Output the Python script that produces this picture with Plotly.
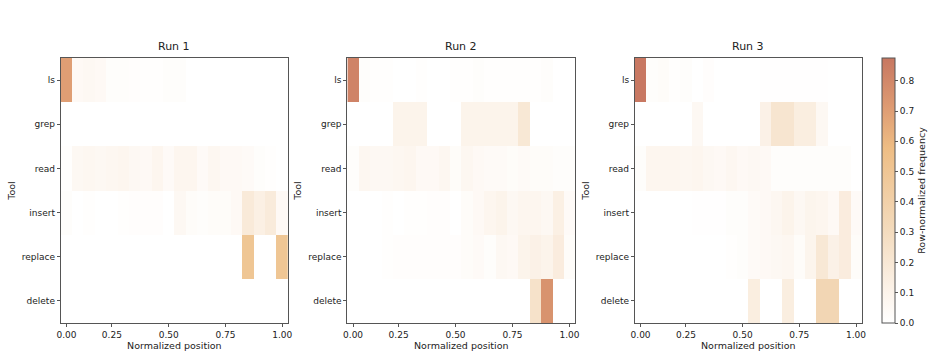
import plotly.graph_objects as go

tools = ["ls", "grep", "read", "insert", "replace", "delete"]
bins = list(range(20))
tick_positions = [0, 4, 9, 14, 19]
tick_labels = ["0.00", "0.25", "0.50", "0.75", "1.00"]
run_titles = ["Run 1", "Run 2", "Run 3"]

run1 = [
    [0.70, 0.05, 0.06, 0.05, 0.02, 0.02, 0.015, 0.01, 0.01, 0.02, 0.02, 0, 0, 0, 0, 0, 0, 0, 0, 0],
    [0] * 20,
    [0.01, 0.06, 0.07, 0.06, 0.07, 0.08, 0.06, 0.05, 0.08, 0.04, 0.08, 0.08, 0.04, 0.07, 0.05, 0.05, 0.04, 0.02, 0.01, 0],
    [0.02, 0, 0.01, 0, 0, 0.01, 0.015, 0.015, 0.015, 0, 0.06, 0.03, 0.02, 0.03, 0.03, 0.05, 0.18, 0.13, 0.17, 0.05],
    [0, 0, 0, 0, 0, 0, 0, 0, 0, 0, 0, 0, 0, 0, 0, 0, 0.5, 0, 0, 0.5],
    [0] * 20,
]
run2 = [
    [0.82, 0.02, 0.01, 0.01, 0, 0, 0.01, 0, 0, 0.01, 0.01, 0.02, 0.01, 0.01, 0.01, 0.01, 0.01, 0.02, 0, 0],
    [0, 0, 0, 0, 0.1, 0.1, 0.1, 0, 0, 0, 0.1, 0.1, 0.1, 0.1, 0.1, 0.2, 0, 0, 0, 0],
    [0.02, 0.07, 0.06, 0.06, 0.07, 0.08, 0.05, 0.05, 0.07, 0.03, 0.07, 0.05, 0.04, 0.04, 0.03, 0.04, 0.03, 0.03, 0.02, 0.02],
    [0, 0, 0, 0.01, 0, 0.01, 0.01, 0.015, 0.015, 0, 0.03, 0.05, 0.08, 0.1, 0.06, 0.08, 0.08, 0.06, 0.13, 0.04],
    [0, 0, 0, 0.01, 0.015, 0.015, 0.015, 0.015, 0.015, 0.015, 0.03, 0.04, 0.02, 0.06, 0.05, 0.1, 0.12, 0.1, 0.16, 0.03],
    [0, 0, 0, 0, 0, 0, 0, 0, 0, 0, 0, 0, 0, 0, 0, 0, 0.25, 0.75, 0, 0],
]
run3 = [
    [0.87, 0.02, 0.03, 0.01, 0.02, 0, 0.015, 0, 0, 0, 0, 0.005, 0.005, 0.005, 0.005, 0.005, 0.005, 0, 0, 0],
    [0, 0, 0, 0, 0, 0.06, 0, 0, 0, 0, 0, 0.12, 0.22, 0.22, 0.15, 0.15, 0.06, 0, 0, 0],
    [0.02, 0.08, 0.08, 0.08, 0.07, 0.08, 0.06, 0.05, 0.07, 0.05, 0.06, 0.05, 0.02, 0.02, 0.02, 0.02, 0.02, 0.02, 0.02, 0],
    [0, 0, 0, 0, 0, 0.005, 0.005, 0.005, 0.02, 0.02, 0.04, 0.05, 0.07, 0.1, 0.06, 0.09, 0.08, 0.05, 0.16, 0.04],
    [0, 0, 0, 0, 0, 0, 0, 0, 0.01, 0.02, 0.04, 0.05, 0.06, 0.07, 0.03, 0.09, 0.2, 0.12, 0.16, 0.03],
    [0, 0, 0, 0, 0, 0, 0, 0, 0, 0, 0.15, 0, 0, 0.15, 0, 0, 0.35, 0.35, 0, 0],
]
runs = [run1, run2, run3]

W, H = 938, 357
x_domains = [(57.3, 286.7), (346.7, 576.7), (637.0, 866.0)]
y_top, y_bot = 58.0, 323.0
ydom = [1 - y_bot / H, 1 - y_top / H]

colorscale = [
    [0.0, "#ffffff"],
    [0.12, "#fcf3ea"],
    [0.35, "#f3dbbd"],
    [0.66, "#eebd84"],
    [0.82, "#dd9a72"],
    [1.0, "#c77761"],
]

fig = go.Figure()
font = "DejaVu Sans, Liberation Sans, sans-serif"
for i, (z, title) in enumerate(zip(runs, run_titles)):
    n = "" if i == 0 else str(i + 1)
    fig.add_trace(go.Heatmap(
        z=z, x=bins, y=tools, coloraxis="coloraxis",
        xaxis="x" + n, yaxis="y" + n, hoverongaps=False,
    ))
    x0, x1 = x_domains[i]
    axis_common = dict(
        showline=True, linecolor="#555555", linewidth=1, mirror=True,
        ticks="outside", ticklen=3, tickcolor="#555555", showgrid=False,
        zeroline=False, tickfont=dict(size=9, color="#222222", family=font),
    )
    fig.layout["xaxis" + n] = dict(
        domain=[x0 / W, x1 / W], anchor="y" + n, range=[-0.5, 19.5],
        tickmode="array", tickvals=tick_positions, ticktext=tick_labels,
        title=dict(text="Normalized position", font=dict(size=9.5, color="#222222", family=font), standoff=2),
        **axis_common,
    )
    fig.layout["yaxis" + n] = dict(
        domain=ydom, anchor="x" + n, autorange="reversed", type="category",
        categoryorder="array", categoryarray=tools,
        title=dict(text="Tool", font=dict(size=9.5, color="#222222", family=font), standoff=4),
        **axis_common,
    )
    fig.add_annotation(
        x=(x0 + x1) / 2 / W, y=1 - (y_top - 3) / H, xref="paper", yref="paper",
        text=title, showarrow=False, xanchor="center", yanchor="bottom",
        font=dict(size=11, color="#222222", family=font),
    )

fig.update_layout(
    width=W, height=H, margin=dict(l=0, r=0, t=0, b=0),
    paper_bgcolor="white", plot_bgcolor="white",
    font=dict(family=font, color="#222222"),
    coloraxis=dict(
        cmin=0, cmax=0.875, colorscale=colorscale,
        colorbar=dict(
            x=886.7 / W, xanchor="left", y=ydom[0], yanchor="bottom",
            len=ydom[1] - ydom[0], lenmode="fraction", thickness=13,
            outlinecolor="#555555", outlinewidth=1,
            ticks="outside", ticklen=3, tickcolor="#555555",
            tickvals=[0, 0.1, 0.2, 0.3, 0.4, 0.5, 0.6, 0.7, 0.8],
            ticktext=["0.0", "0.1", "0.2", "0.3", "0.4", "0.5", "0.6", "0.7", "0.8"],
            tickfont=dict(size=9, color="#222222", family=font),
            title=dict(text="Row-normalized frequency", side="right",
                       font=dict(size=9.5, color="#222222", family=font)),
            xpad=0, ypad=0,
        ),
    ),
)

fig.write_html("out.html")
